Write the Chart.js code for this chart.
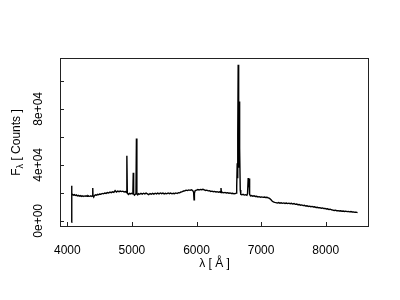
<!DOCTYPE html>
<html>
<head>
<meta charset="utf-8">
<script src="https://cdn.jsdelivr.net/npm/chart.js@4/dist/chart.umd.min.js"></script>
<style>
html,body{margin:0;padding:0;background:#fff;}
canvas{display:block;}
</style>
</head>
<body>
<canvas id="c" width="400" height="300"></canvas>
<script>
// wavelength in Angstrom
const wavelength = [
4064,4067,4071,4080,4095,4110,4125,4140,4155,4170,4185,4200,4215,4230,4245,4260,4275,4290,4305,4320,
4335,4350,4365,4380,4390,4394,4398,4410,4425,4440,4455,4470,4485,4500,4520,4540,4560,4580,4600,4620,
4640,4660,4680,4700,4720,4740,4760,4780,4800,4820,4840,4860,4880,4900,4915,4922,4929,4945,4960,4975,
4990,5005,5015,5021,5027,5040,5055,5063,5070,5077,5090,5105,5120,5140,5160,5180,5200,5220,5240,5260,
5280,5300,5320,5340,5360,5380,5400,5420,5440,5460,5480,5500,5520,5540,5560,5580,5600,5620,5640,5660,
5680,5700,5720,5740,5760,5780,5800,5820,5840,5860,5880,5900,5920,5940,5955,5962,5968,5980,6000,6020,
6040,6060,6080,6100,6120,6140,6160,6180,6200,6220,6240,6260,6280,6300,6320,6340,6360,6372,6379,6386,
6400,6420,6440,6460,6480,6500,6520,6540,6560,6580,6600,6615,6622,6630,6636,6641,6645,6650,6655,6661,
6665,6670,6677,6685,6700,6720,6740,6760,6780,6790,6800,6807,6815,6822,6835,6850,6870,6890,6910,6930,
6950,6970,6990,7010,7030,7050,7070,7090,7110,7130,7150,7170,7190,7210,7230,7250,7270,7290,7310,7330,
7350,7370,7390,7410,7430,7450,7470,7490,7510,7530,7550,7570,7590,7610,7630,7650,7670,7690,7710,7730,
7750,7770,7790,7810,7830,7850,7870,7890,7910,7930,7950,7970,7990,8010,8030,8050,8070,8090,8110,8130,
8150,8170,8190,8210,8230,8250,8270,8290,8310,8330,8350,8370,8390,8410,8430,8450,8470,8493
];
// flux in counts
const flux = [
-1000,25000,18200,18900,18300,18700,18100,18500,17800,18200,17600,18000,17500,17900,17400,17800,17500,17900,17600,18000,
17700,17500,17900,17400,17800,23500,17600,17300,18200,18600,18300,18900,18600,19200,19000,19600,19300,19900,19600,20200,
19900,20500,20100,20700,20300,21600,20600,21200,20800,21300,20900,21200,20600,20900,20200,46400,19800,18900,19600,19200,
19700,19300,19800,34300,19200,18300,19100,19800,58800,19600,18600,19400,19000,19600,19100,19700,19200,19800,19300,18700,
19500,19000,19600,19100,19700,19200,19800,19300,19900,19400,19800,19200,19700,19300,19900,19400,19800,19300,19700,19400,
19900,19500,20100,20000,20600,20900,21300,21500,21900,21600,22100,21800,22200,21700,20500,15000,19800,21600,21900,22300,
22000,22400,22200,22500,22100,21700,21900,21400,21500,21000,21200,20800,21000,20600,20800,20400,20700,20300,23400,20200,
20400,20000,20300,19900,20100,19700,19900,19500,19700,19300,19500,19800,24000,41200,30500,62000,111400,72000,38000,58000,
85200,52000,22000,19000,18600,18900,18400,18700,18200,19500,30500,24000,30300,19000,17800,18100,17600,17900,17400,17600,
17100,17300,16900,17100,16800,17000,16700,16800,16400,16000,15200,14200,13500,13200,13000,12700,13100,12600,12900,12500,
12800,12400,12700,12300,12600,12200,12500,12000,12300,11800,12000,11500,11700,11200,11400,10900,11100,10600,10800,10300,
10500,10100,10300,9900,10000,9500,9700,9300,9400,9000,9200,8800,8900,8500,8600,8100,8300,7900,7700,7400,
7600,7200,7300,7000,7200,6900,7000,6700,6900,6600,6700,6400,6600,6300,6400,6100,6200,5900
];
const xTicks = [4000, 5000, 6000, 7000, 8000];
const xTickLabels = ['4000', '5000', '6000', '7000', '8000'];
const yTicks = [0, 20000, 40000, 60000, 80000, 100000];
const yTickLabels = ['0e+00', '', '4e+04', '', '8e+04', ''];

const points = wavelength.map((w, i) => ({x: w, y: flux[i]}));

const FONT = '12px "Liberation Sans", Arial, Helvetica, sans-serif';
const SMALL = '9px "Liberation Sans", Arial, Helvetica, sans-serif';

const axesPlugin = {
  id: 'rAxes',
  afterDraw(chart) {
    const ctx = chart.ctx;
    const a = chart.chartArea;
    const xs = chart.scales.x, ys = chart.scales.y;
    ctx.save();
    ctx.strokeStyle = '#222';
    ctx.lineWidth = 1;
    // box
    ctx.strokeRect(Math.round(a.left) + 0.5, Math.round(a.top) + 0.5,
                   Math.round(a.right - a.left) - 1, Math.round(a.bottom - a.top) - 1);
    const tl = 4;
    ctx.beginPath();
    xTicks.forEach(v => {
      const px = Math.round(xs.getPixelForValue(v)) + 0.5;
      ctx.moveTo(px, a.bottom - 1);
      ctx.lineTo(px, a.bottom - 1 - tl);
    });
    yTicks.forEach(v => {
      const py = Math.round(ys.getPixelForValue(v)) + 0.5;
      ctx.moveTo(a.left, py);
      ctx.lineTo(a.left + tl, py);
    });
    ctx.stroke();
    ctx.fillStyle = '#000';
    ctx.font = FONT;
    // x tick labels
    ctx.textAlign = 'center';
    ctx.textBaseline = 'alphabetic';
    xTicks.forEach((v, i) => {
      ctx.fillText(xTickLabels[i], xs.getPixelForValue(v), 254);
    });
    // y tick labels (rotated)
    yTicks.forEach((v, i) => {
      if (!yTickLabels[i]) return;
      ctx.save();
      ctx.translate(42, ys.getPixelForValue(v));
      ctx.rotate(-Math.PI / 2);
      ctx.fillText(yTickLabels[i], 0, 0);
      ctx.restore();
    });
    // x axis title
    ctx.fillText('λ [ Å ]', (a.left + a.right) / 2, 267);
    // y axis title: F_λ [ Counts ]
    ctx.save();
    ctx.translate(19.5, (a.top + a.bottom) / 2);
    ctx.rotate(-Math.PI / 2);
    ctx.textAlign = 'left';
    const t1 = 'F';
    const t2 = 'λ';
    const t3 = ' [ Counts ]';
    ctx.font = FONT;
    const w1 = ctx.measureText(t1).width;
    const w3 = ctx.measureText(t3).width;
    ctx.font = SMALL;
    const w2 = ctx.measureText(t2).width;
    const total = w1 + w2 + w3;
    let x0 = -total / 2;
    ctx.font = FONT;
    ctx.fillText(t1, x0, 0);
    ctx.font = SMALL;
    ctx.fillText(t2, x0 + w1, 3);
    ctx.font = FONT;
    ctx.fillText(t3, x0 + w1 + w2, 0);
    ctx.restore();
    ctx.restore();
  }
};

new Chart(document.getElementById('c'), {
  type: 'line',
  data: {
    datasets: [{
      data: points,
      borderColor: '#000',
      borderWidth: 1.4,
      pointRadius: 0,
      tension: 0,
      fill: false
    }]
  },
  options: {
    responsive: false,
    devicePixelRatio: 1,
    animation: false,
    layout: {padding: {left: 60, top: 58, right: 31, bottom: 73}},
    plugins: {legend: {display: false}, tooltip: {enabled: false}},
    scales: {
      x: {type: 'linear', min: 3887, max: 8670, display: false},
      y: {type: 'linear', min: -4400, max: 116300, display: false}
    }
  },
  plugins: [axesPlugin]
});
</script>
</body>
</html>
